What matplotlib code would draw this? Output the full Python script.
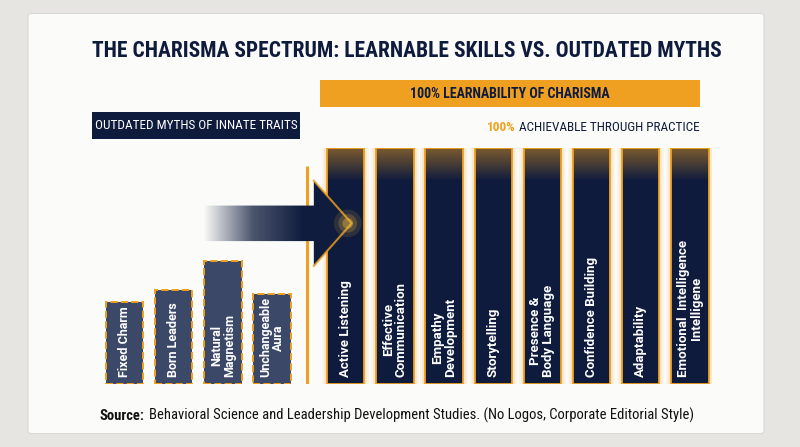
import matplotlib.pyplot as plt
import matplotlib.patches as mpatches
import numpy as np
from matplotlib.colors import LinearSegmentedColormap

# datos
mitos = ["Fixed Charm", "Born Leaders", "Natural\nMagnetism", "Unchangeable\nAura"]
mitos_val = [35, 40, 52, 38]
habilidades = ["Active Listening", "Effective\nCommunication", "Empathy\nDevelopment",
               "Storytelling", "Presence &\nBody Language", "Confidence Building",
               "Adaptability", "Emotional  Intelligence\nIntelligene"]
habilidades_val = [100, 100, 100, 100, 100, 100, 100, 100]

NAVY = "#0f1b3d"
SLATE = "#3b4868"
GOLD = "#f0a020"
cond = ["Liberation Sans Narrow", "Roboto Condensed", "DejaVu Sans"]
etiq = ["Roboto", "DejaVu Sans"]

fig = plt.figure(figsize=(8, 4.47), dpi=100)
fig.patch.set_facecolor("#e6e5e2")

# tarjeta blanca (debajo de todo)
card = mpatches.FancyBboxPatch((0.035, 0.03), 0.92, 0.94, boxstyle="round,pad=0,rounding_size=0.005",
                               transform=fig.transFigure, facecolor="#fbfbf9",
                               edgecolor="#d8d8d4", lw=0.8, zorder=-5)
fig.patches.append(card)

# titulo
fig.text(0.115, 0.885, "THE CHARISMA SPECTRUM: LEARNABLE SKILLS VS. OUTDATED MYTHS",
         fontsize=15.5, fontweight="bold", color=NAVY, family=cond, va="center")

# banda naranja
fig.patches.append(mpatches.Rectangle((0.40, 0.76), 0.475, 0.06, transform=fig.transFigure,
                                      facecolor=GOLD, edgecolor="none", zorder=-1))
fig.text(0.6375, 0.79, "100% LEARNABILITY OF CHARISMA", fontsize=10, fontweight="bold",
         color=NAVY, family=cond, ha="center", va="center")

# caja azul
fig.patches.append(mpatches.Rectangle((0.115, 0.69), 0.26, 0.06, transform=fig.transFigure,
                                      facecolor=NAVY, edgecolor="none", zorder=-1))
fig.text(0.245, 0.72, "OUTDATED MYTHS OF INNATE TRAITS", fontsize=9.5, color="white",
         family=cond, ha="center", va="center")

t1 = fig.text(0.875, 0.715, "ACHIEVABLE THROUGH PRACTICE", fontsize=9.5, color=NAVY,
              family=cond, ha="right", va="center")
fig.canvas.draw()
bb = t1.get_window_extent()
fig.text(bb.x0 / fig.bbox.width - 0.004, 0.715, "100%", fontsize=9.5, color=GOLD,
         fontweight="bold", family=cond, ha="right", va="center")

# ejes
ax = fig.add_axes([0.125, 0.14, 0.765, 0.53])
ax.patch.set_alpha(0)
ax.axis("off")

x_m = np.arange(len(mitos))
x_h = np.arange(len(habilidades)) + 4.5
w = 0.76

ax.bar(x_m, mitos_val, width=w, color=SLATE, edgecolor=GOLD, linestyle="--",
       linewidth=1.4, align="center", zorder=3)
for x, lab in zip(x_m, mitos):
    ax.text(x, 3, lab, rotation=90, color="white", fontsize=9, fontweight="bold",
            ha="center", va="bottom", linespacing=1.0, zorder=5, family=etiq)

# brillo
for lw, a in [(7, 0.08), (4, 0.15)]:
    ax.bar(x_h, habilidades_val, width=w, color="none", edgecolor=GOLD,
           linewidth=lw, alpha=a, zorder=2)
ax.bar(x_h, habilidades_val, width=w, color=NAVY, edgecolor=GOLD, linewidth=1.3, zorder=3)

# degradado dorado arriba de cada barra
grad = np.linspace(0, 1, 100).reshape(-1, 1)
cm_top = LinearSegmentedColormap.from_list("t", [(0.94, 0.63, 0.13, 0.0), (0.94, 0.63, 0.13, 0.5)])
for x, v in zip(x_h, habilidades_val):
    ax.imshow(grad, extent=(x - w / 2, x + w / 2, v - 14, v), cmap=cm_top, aspect="auto",
              origin="lower", zorder=4)
for x, lab in zip(x_h, habilidades):
    ax.text(x, 3, lab, rotation=90, color="white", fontsize=9.5, fontweight="bold",
            ha="center", va="bottom", linespacing=1.0, zorder=5, family=etiq)

# separador
ax.plot([3.72, 3.72], [0, 92], color=GOLD, lw=2.2, zorder=3, solid_capstyle="butt")

# flecha
fx0, fx1, fxh = 1.6, 4.62, 3.85
fy, sh, hh = 68, 7.5, 18
pts = [(fx0, fy - sh), (fxh, fy - sh), (fxh, fy - hh), (fx1, fy),
       (fxh, fy + hh), (fxh, fy + sh), (fx0, fy + sh)]
flecha = mpatches.Polygon(pts, closed=True, facecolor="none", edgecolor="none", zorder=6)
ax.add_patch(flecha)
cm_arr = LinearSegmentedColormap.from_list("a", [(0.06, 0.11, 0.24, 0.0), (0.06, 0.11, 0.24, 0.75),
                                                  (0.06, 0.11, 0.24, 1.0), (0.06, 0.11, 0.24, 1.0)])
img = ax.imshow(np.linspace(0, 1, 200).reshape(1, -1), extent=(fx0, fx1, fy - hh, fy + hh),
                cmap=cm_arr, aspect="auto", origin="lower", zorder=6)
img.set_clip_path(flecha)
ax.plot([fxh, fx1, fxh], [fy + hh, fy, fy - hh], color=GOLD, lw=1.5, alpha=0.8, zorder=7)
for s, a in [(400, 0.12), (180, 0.2), (60, 0.35)]:
    ax.scatter([fx1 - 0.08], [fy], s=s, color="#ffc640", alpha=a, zorder=7, edgecolors="none")
ax.set_xlim(-0.5, 11.95)
ax.set_ylim(0, 100)

# fuente
s1 = fig.text(0.125, 0.07, "Source:", fontsize=10.5, fontweight="bold", color="#111111",
              va="center", family=cond)
fig.canvas.draw()
bb = s1.get_window_extent()
fig.text(bb.x1 / fig.bbox.width + 0.005, 0.07,
         "Behavioral Science and Leadership Development Studies. (No Logos, Corporate Editorial Style)",
         fontsize=10.5, color="#111111", va="center", family=cond)

plt.savefig("out.png", dpi=100, facecolor=fig.get_facecolor())
